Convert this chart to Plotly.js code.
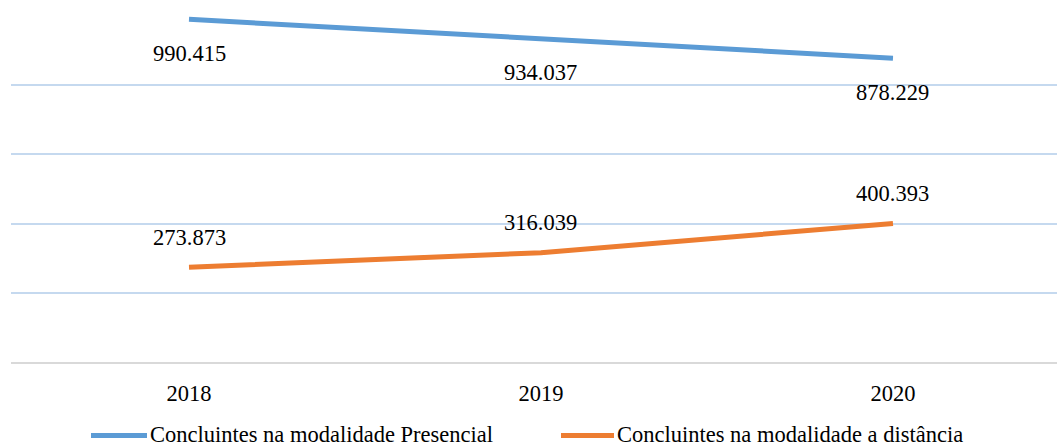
<!DOCTYPE html>
<html>
<head>
<meta charset="utf-8">
<script src="https://cdn.plot.ly/plotly-3.0.1.min.js"></script>
<style>html,body{margin:0;padding:0;background:#fff;}#chart{width:1057px;height:448px;}</style>
</head>
<body>
<div id="chart"></div>
<script>
var years = ['2018', '2019', '2020'];
var presencial = [990415, 934037, 878229];
var distancia = [273873, 316039, 400393];
var seriesNames = ['Concluintes na modalidade Presencial', 'Concluintes na modalidade a distância'];
var seriesColors = ['#5b9bd5', '#ed7d31'];

function fmt(v) {
  return String(v).replace(/\B(?=(\d{3})+(?!\d))/g, '.');
}
var xIdx = years.map(function (_, i) { return i; });
var FONT = 'Liberation Serif';
var FS = 22.5;

var traces = [
  {x: xIdx, y: presencial, name: seriesNames[0], mode: 'lines', type: 'scatter',
   line: {color: seriesColors[0], width: 5}, hoverinfo: 'skip', showlegend: false},
  {x: xIdx, y: distancia, name: seriesNames[1], mode: 'lines', type: 'scatter',
   line: {color: seriesColors[1], width: 5}, hoverinfo: 'skip', showlegend: false}
];

var annotations = [];
xIdx.forEach(function (x, i) {
  annotations.push({x: x, y: presencial[i], xref: 'x', yref: 'y', text: fmt(presencial[i]),
    showarrow: false, yshift: -34, font: {family: FONT, size: FS, color: '#000'}});
  annotations.push({x: x, y: distancia[i], xref: 'x', yref: 'y', text: fmt(distancia[i]),
    showarrow: false, yshift: 30, font: {family: FONT, size: FS, color: '#000'}});
});

// legend (bottom) drawn in paper coordinates: plot area x 11..1057, y 16..362
var PL = 11, PW = 1046, PT = 16, PH = 346;
function px(x) { return (x - PL) / PW; }
function py(y) { return (PT + PH - y) / PH; }
var LEG_Y = 434.5;
var legendItems = [{x0: 91, x1: 147}, {x0: 561, x1: 614}];
var shapes = [];
legendItems.forEach(function (it, i) {
  shapes.push({type: 'line', xref: 'paper', yref: 'paper', x0: px(it.x0), x1: px(it.x1),
    y0: py(LEG_Y + 1), y1: py(LEG_Y + 1), line: {color: seriesColors[i], width: 5}});
  annotations.push({xref: 'paper', yref: 'paper', x: px(it.x1 + 1), y: py(LEG_Y), xanchor: 'left',
    yanchor: 'middle', text: seriesNames[i], showarrow: false,
    font: {family: FONT, size: FS, color: '#000'}});
});

var layout = {
  width: 1057, height: 448,
  margin: {l: PL, r: 0, t: PT, b: 448 - PT - PH},
  paper_bgcolor: '#fff', plot_bgcolor: '#fff',
  font: {family: FONT, size: FS, color: '#000'},
  xaxis: {
    range: [-0.5057, 2.466], tickvals: xIdx, ticktext: years,
    showgrid: false, zeroline: false, showline: true, linecolor: '#d9d9d9', linewidth: 2,
    ticks: '', ticklabelstandoff: 10, tickfont: {family: FONT, size: FS, color: '#000'}, fixedrange: true
  },
  yaxis: {
    range: [0, 1000000], dtick: 200000, showticklabels: false,
    showgrid: true, gridcolor: '#c5d9ef', gridwidth: 2, zeroline: false, ticks: '', fixedrange: true
  },
  showlegend: false,
  shapes: shapes,
  annotations: annotations
};

Plotly.newPlot('chart', traces, layout, {displayModeBar: false, staticPlot: true});
</script>
</body>
</html>
